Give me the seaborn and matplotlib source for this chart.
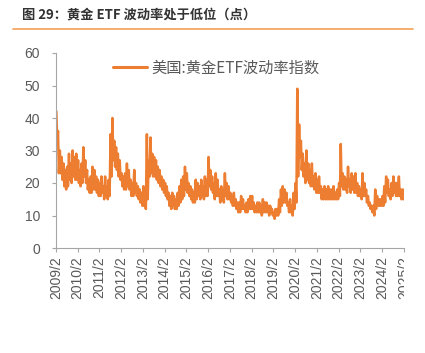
import seaborn as sns
import matplotlib.pyplot as plt
import pandas as pd
from matplotlib.lines import Line2D
from matplotlib.transforms import Bbox, TransformedBbox

# monthly high / low of the index, 2009/2 .. 2025/2
hi_vals = [
    42, 36, 30, 28, 26, 24, 25, 29, 26, 30, 28,                  # 2009 (Feb-Dec)
    29, 27, 24, 26, 31, 27, 24, 21, 22, 25, 24, 22,              # 2010
    21, 20, 22, 19, 22, 19, 21, 35, 40, 33, 31, 29,              # 2011
    27, 23, 22, 23, 26, 24, 21, 20, 24, 20, 19, 18,              # 2012
    17, 19, 16, 35, 27, 34, 29, 28, 27, 25, 24, 22,              # 2013
    21, 20, 19, 17, 16, 17, 16, 15, 17, 19, 21, 22,              # 2014
    25, 23, 20, 19, 18, 17, 21, 20, 19, 21, 19, 22,              # 2015
    21, 28, 24, 22, 20, 23, 21, 18, 19, 18, 23, 20,              # 2016
    19, 17, 16, 17, 15, 14, 14, 16, 15, 13, 14, 15,              # 2017
    16, 16, 14, 13, 14, 14, 13, 15, 14, 14, 13, 13,              # 2018
    12, 11, 12, 12, 15, 18, 19, 18, 17, 14, 15, 13,              # 2019
    17, 20, 49, 38, 33, 29, 26, 30, 26, 24, 26, 22,              # 2020
    23, 21, 22, 19, 18, 19, 18, 19, 18, 18, 19, 17,              # 2021
    18, 20, 32, 23, 22, 21, 25, 21, 23, 22, 23, 20,              # 2022
    19, 18, 23, 20, 18, 16, 14, 13, 13, 18, 16, 15,              # 2023
    15, 16, 19, 22, 21, 18, 20, 22, 20, 20, 22, 18,              # 2024
    18, 18,                                                      # 2025
]
lo_vals = [
    33, 23, 23, 21, 19, 18, 19, 21, 20, 22, 21,                  # 2009
    21, 20, 19, 20, 22, 20, 18, 17, 17, 18, 18, 17,              # 2010
    16, 16, 17, 15, 16, 15, 16, 22, 27, 25, 24, 22,              # 2011
    21, 19, 18, 18, 19, 18, 16, 16, 17, 16, 15, 14,              # 2012
    13, 13, 12, 15, 22, 23, 22, 22, 21, 20, 19, 18,              # 2013
    17, 16, 15, 13, 12, 13, 12, 12, 13, 14, 15, 16,              # 2014
    18, 17, 16, 15, 14, 14, 15, 16, 15, 16, 15, 16,              # 2015
    16, 19, 18, 17, 15, 16, 16, 14, 15, 14, 16, 15,              # 2016
    15, 14, 13, 13, 12, 11, 11, 12, 12, 11, 11, 12,              # 2017
    12, 12, 11, 11, 11, 11, 10, 11, 11, 11, 10, 11,              # 2018
    10, 9, 10, 10, 11, 13, 14, 14, 13, 11, 11, 10,               # 2019
    12, 14, 22, 28, 24, 22, 20, 21, 20, 19, 19, 18,              # 2020
    17, 17, 17, 15, 15, 15, 15, 15, 15, 15, 15, 15,              # 2021
    15, 16, 19, 18, 18, 17, 19, 17, 18, 17, 17, 16,              # 2022
    16, 15, 16, 16, 14, 13, 12, 11, 10, 12, 13, 13,              # 2023
    13, 13, 14, 17, 16, 15, 16, 17, 16, 16, 16, 15,              # 2024
    15, 16,                                                      # 2025
]
series_name = '美国:黄金ETF波动率指数'
title = '图 29：黄金 ETF 波动率处于低位（点）'

months = pd.date_range('2009-02-01', periods=len(hi_vals), freq='MS')
rows = []
for m, h, l in zip(months, hi_vals, lo_vals):
    rows.append((m + pd.Timedelta(days=6), h))
    rows.append((m + pd.Timedelta(days=20), l))
df = pd.DataFrame(rows, columns=['date', 'value'])

sns.set_theme(style='white')
plt.rcParams['font.family'] = ['Liberation Sans', 'Noto Sans CJK SC', 'DejaVu Sans']

fig = plt.figure(figsize=(4.25, 3.53), dpi=100)
ax = fig.add_axes([56 / 425, 1 - 248 / 353, 348 / 425, 195 / 353])

sns.lineplot(data=df, x='date', y='value', ax=ax, color='#ED7D31',
             linewidth=1.8, label=series_name)

ax.set_xlim(pd.Timestamp('2009-02-01'), pd.Timestamp('2025-02-01'))
ax.set_ylim(0, 60)
ax.set_yticks(range(0, 61, 10))
ticks = pd.date_range('2009-02-01', '2025-02-01', freq='12MS')
ax.set_xticks(ticks)
ax.set_xticklabels([f'{d.year}/{d.month}' for d in ticks], rotation=90)
ax.set_xlabel('')
ax.set_ylabel('')

for s in ['top', 'right']:
    ax.spines[s].set_visible(False)
for s in ['left', 'bottom']:
    ax.spines[s].set_color('#A6A6A6')
    ax.spines[s].set_linewidth(0.8)
ax.tick_params(axis='both', which='major', length=3, width=0.8, color='#A6A6A6',
               labelsize=10, labelcolor='#595959', pad=3, direction='out')
ax.tick_params(axis='y', pad=8.5)
ax.xaxis.set_tick_params(bottom=True)
ax.yaxis.set_tick_params(left=True)

leg = ax.legend(loc='upper center', bbox_to_anchor=(0.46, 1.036), frameon=False,
                handlelength=2.2, handletextpad=0.3,
                prop={'family': ['Noto Sans CJK SC'], 'size': 11})
for t in leg.get_texts():
    t.set_color('#595959')
for h in leg.get_lines():
    h.set_linewidth(2.2)

fig.text(22 / 425, 1 - 15 / 353, title, fontsize=9.5, fontweight='bold',
         color='#333333', va='center', ha='left',
         family=['Noto Sans CJK SC', 'DejaVu Sans'])
fig.add_artist(Line2D([13 / 425, 413 / 425], [1 - 29 / 353] * 2,
                      transform=fig.transFigure, color='#F4A055', linewidth=1.2))

# last label is cut at the edge of the plot area in the original
fig.canvas.draw()
clip = TransformedBbox(Bbox([[0, 0], [404 / 425, 1]]), fig.transFigure)
for lab in ax.get_xticklabels():
    if lab.get_text().startswith('2025'):
        lab.set_clip_box(clip)
        lab.set_clip_on(True)

fig.savefig('out.png', dpi=100)
